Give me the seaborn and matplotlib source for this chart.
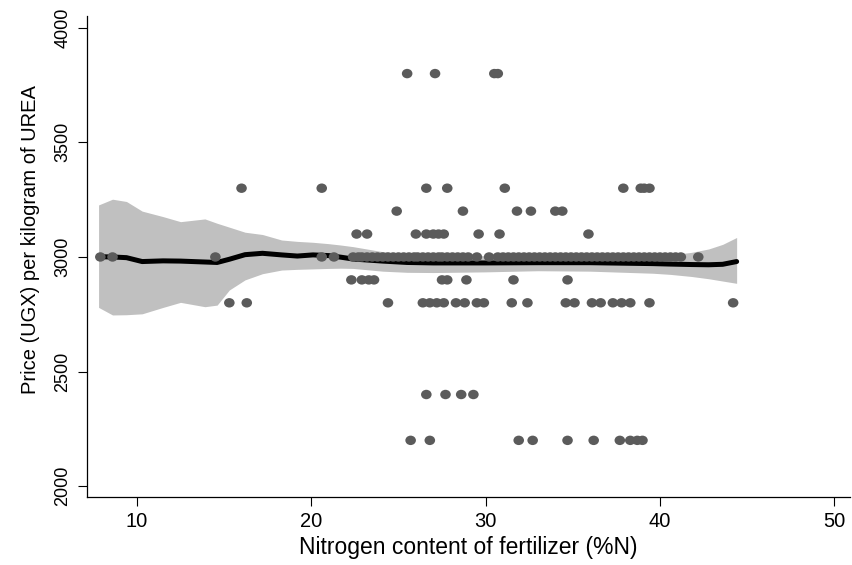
""" Price of UREA against nitrogen content, scatter with local polynomial fit and CI
"""

import matplotlib

matplotlib.use("Agg")

import matplotlib.pyplot as plt
import pandas as pd
import seaborn as sns
from matplotlib.markers import MarkerStyle
from matplotlib.path import Path
from matplotlib.transforms import Affine2D

# nitrogen content (%N) of each observation, grouped by observed price (UGX/kg)
n_3800 = [25.5, 27.1, 30.5, 30.7]
n_3300 = [16.0, 20.6, 26.6, 27.8, 31.1, 37.9, 38.9, 39.1, 39.4]
n_3200 = [24.9, 28.7, 31.8, 32.6, 34.0, 34.4]
n_3100 = [22.6, 23.2, 26.0, 26.6, 27.0, 27.3, 27.6, 29.6, 30.8, 35.9]
n_3000 = [7.9, 8.6, 14.5, 20.6, 21.3,
          22.4, 22.7, 22.9, 23.2, 23.5, 23.8, 24.1, 24.4, 24.7, 25.0,
          25.3, 25.6, 25.9, 26.1, 26.4, 26.7, 27.0, 27.3, 27.5, 27.8,
          28.1, 28.4, 28.7, 29.0, 29.5, 30.2, 30.7, 31.0, 31.3, 31.6,
          31.9, 32.2, 32.5, 32.8, 33.1, 33.4, 33.7, 34.0, 34.3, 34.6,
          34.9, 35.2, 35.5, 35.8, 36.1, 36.4, 36.7, 37.0, 37.3, 37.6,
          37.9, 38.2, 38.5, 38.8, 39.1, 39.4, 39.7, 40.0, 40.3, 40.6,
          40.9, 41.2, 42.2]
n_2900 = [22.3, 22.9, 23.3, 23.6, 27.5, 27.8, 28.9, 31.6, 34.7]
n_2800 = [15.3, 16.3, 24.4, 26.4, 26.8, 27.2, 27.6, 28.3, 28.8, 29.5,
          29.9, 31.5, 32.4, 34.6, 35.1, 36.1, 36.6, 37.3, 37.8, 38.3,
          39.4, 44.2]
n_2400 = [26.6, 27.7, 28.6, 29.3]
n_2200 = [25.7, 26.8, 31.9, 32.7, 34.7, 36.2, 37.7, 38.3, 38.7, 39.0]

# smoothed fit and its confidence band
fit_x = [7.8, 8.6, 9.4, 10.3, 11.5, 12.5, 13.9, 14.6, 15.3, 16.2,
         17.2, 18.3, 19.2, 20.1, 21.0, 21.7, 22.4, 24.1, 25.5, 27.0,
         30.0, 33.0, 36.0, 39.6, 40.6, 41.8, 42.8, 43.6, 44.4]
fit_y = [3001, 3000, 2997, 2980, 2983, 2982, 2978, 2976, 2990, 3010,
         3016, 3009, 3004, 3009, 3006, 2999, 2991, 2982, 2976, 2974,
         2974, 2975, 2975, 2971, 2969, 2967, 2966, 2968, 2980]
ci_hi = [3227, 3252, 3242, 3200, 3176, 3154, 3166, 3147, 3130, 3108,
         3098, 3074, 3068, 3064, 3058, 3052, 3045, 3023, 3012, 3008,
         3005, 3004, 3004, 3005, 3009, 3020, 3035, 3055, 3085]
ci_lo = [2780, 2747, 2748, 2752, 2780, 2802, 2783, 2790, 2856, 2900,
         2927, 2943, 2946, 2948, 2950, 2951, 2950, 2938, 2933, 2932,
         2935, 2940, 2938, 2929, 2924, 2915, 2905, 2895, 2885]

x_ticks = [10, 20, 30, 40, 50]
y_ticks = [2000, 2500, 3000, 3500, 4000]

groups = {3800: n_3800, 3300: n_3300, 3200: n_3200, 3100: n_3100,
          3000: n_3000, 2900: n_2900, 2800: n_2800, 2400: n_2400,
          2200: n_2200}
df = pd.DataFrame(
    [(n, p) for p, ns in groups.items() for n in ns], columns=["nitrogen", "price"]
)
fit = pd.DataFrame({"x": fit_x, "y": fit_y, "lo": ci_lo, "hi": ci_hi})

sns.set_style("ticks")
plt.rcParams["font.family"] = ["Liberation Sans", "DejaVu Sans"]
plt.rcParams.update({"text.color": "black", "axes.labelcolor": "black",
                     "xtick.color": "black", "ytick.color": "black"})

fig, ax = plt.subplots(figsize=(8.52, 5.65), dpi=100)
fig.subplots_adjust(left=0.102, right=0.998, bottom=0.120, top=0.972)

ax.fill_between(fit["x"], fit["lo"], fit["hi"], color="#c0c0c0", lw=0, zorder=1)
sns.lineplot(data=fit, x="x", y="y", color="black", lw=3.6, ax=ax, zorder=2)

# slightly wide dots, as in the original export
dot = MarkerStyle(Path.unit_circle().transformed(Affine2D().scale(1.12, 1.0)))
sns.scatterplot(
    data=df, x="nitrogen", y="price", marker=dot, s=58,
    color="#5b5b5b", edgecolor="none", linewidth=0, ax=ax, zorder=3,
)

ax.set_xlim(7.13, 50.92)
ax.set_ylim(1952, 4052)
ax.set_xticks(x_ticks)
ax.set_yticks(y_ticks)
plt.setp(ax.get_yticklabels(), rotation=90, va="center")
ax.tick_params(axis="y", length=6.3, width=0.8, pad=5, labelsize=13,
               color="black", labelcolor="black")
ax.tick_params(axis="x", length=6.5, width=0.8, pad=4, labelsize=14.5,
               color="black", labelcolor="black")

ax.set_xlabel("Nitrogen content of fertilizer (%N)", fontsize=16.5, color="black")
ax.set_ylabel("Price (UGX) per kilogram of UREA", fontsize=14.5, color="black")
ax.xaxis.set_label_coords(0.5, -0.08)
ax.yaxis.set_label_coords(-0.062, 0.535)

sns.despine(ax=ax)
for side in ["left", "bottom"]:
    ax.spines[side].set_color("black")
    ax.spines[side].set_linewidth(0.9)

fig.savefig("out.png", dpi=100)
